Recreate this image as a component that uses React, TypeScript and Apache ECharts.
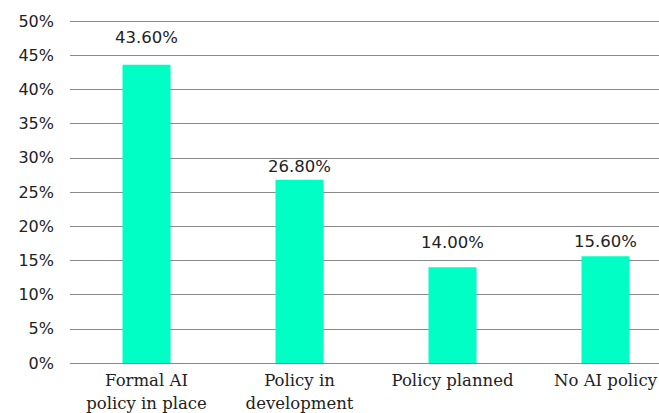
import React, { useEffect, useRef } from "react";
import * as echarts from "echarts";

const categories = ["Formal AI\npolicy in place", "Policy in\ndevelopment", "Policy planned", "No AI policy"];
const values = [43.6, 26.8, 14.0, 15.6];
const labelDistances = [19, 5, 16, 6];

export default function App() {
  const ref = useRef<HTMLDivElement>(null);
  useEffect(() => {
    const chart = echarts.init(ref.current!, null, { renderer: "svg" });
    chart.setOption({
      animation: false,
      grid: { left: 70, width: 612, top: 21, bottom: 50, containLabel: false, outerBoundsMode: "none" },
      xAxis: {
        type: "category",
        data: categories,
        axisTick: { show: false },
        axisLine: { show: false },
        axisLabel: {
          color: "#222",
          fontFamily: "DejaVu Serif",
          fontSize: 16.5,
          lineHeight: 23,
          margin: 6,
          interval: 0,
        },
      },
      yAxis: {
        type: "value",
        min: 0,
        max: 50,
        interval: 5,
        axisLine: { show: false },
        axisTick: { show: false },
        splitLine: { lineStyle: { color: "#8a8a8a", width: 1 } },
        axisLabel: {
          formatter: "{value}%",
          color: "#222",
          fontFamily: "DejaVu Sans",
          fontSize: 16,
          margin: 16,
        },
      },
      series: [
        {
          type: "bar",
          data: values.map((v, i) => ({
            value: v,
            label: { distance: labelDistances[i] },
          })),
          barWidth: 48,
          itemStyle: { color: "#00FFC5" },
          label: {
            show: true,
            position: "top",
            formatter: (p: any) => p.value.toFixed(2) + "%",
            color: "#222",
            fontFamily: "DejaVu Sans",
            fontSize: 16.5,
          },
        },
      ],
    });
    return () => chart.dispose();
  }, []);
  return <div ref={ref} style={{ width: 659, height: 413, position: "absolute", left: 0, top: 0 }} />;
}
